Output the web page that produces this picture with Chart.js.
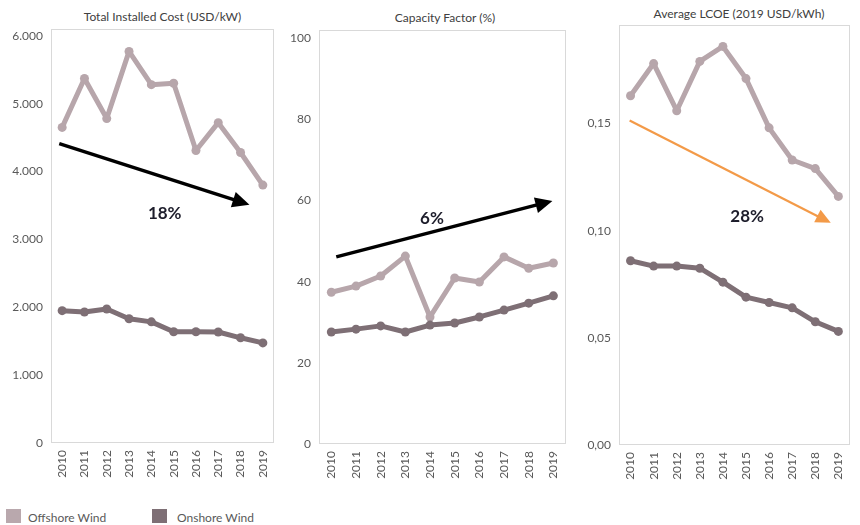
<!DOCTYPE html>
<html>
<head>
<meta charset="utf-8">
<script src="https://cdn.jsdelivr.net/npm/chart.js@4.4.1/dist/chart.umd.min.js"></script>
<style>
  html, body { margin: 0; padding: 0; background: #ffffff; }
  body { width: 860px; height: 525px; position: relative; overflow: hidden;
         font-family: Lato, "Liberation Sans", sans-serif; }
  canvas { position: absolute; top: 0; }
  .title { position: absolute; font-size: 12px; line-height: 14px; color: #404040;
           text-align: center; white-space: nowrap; }
  .swatch { position: absolute; top: 509px; width: 15px; height: 14px; }
  .legtext { position: absolute; top: 511px; font-size: 12px; line-height: 14px; color: #595959; white-space: nowrap; }
</style>
</head>
<body>
<div class="title" style="left:51px; width:223px; top:10px;">Total Installed Cost (USD/kW)</div>
<div class="title" style="left:319px; width:252px; top:11px;">Capacity Factor (%)</div>
<div class="title" style="left:619px; width:240px; top:7px;">Average LCOE (2019 USD/kWh)</div>

<canvas id="cost" width="285" height="480" style="left:0px;"></canvas>
<canvas id="cf" width="305" height="480" style="left:270px;"></canvas>
<canvas id="lcoe" width="285" height="480" style="left:575px;"></canvas>

<div class="swatch" style="left:6px; background:#b9a8ad;"></div>
<div class="legtext" style="left:28px;">Offshore Wind</div>
<div class="swatch" style="left:152px; background:#7e6f75;"></div>
<div class="legtext" style="left:177px;">Onshore Wind</div>

<script>
// Years on the category axis
const years = ['2010', '2011', '2012', '2013', '2014', '2015', '2016', '2017', '2018', '2019'];

// Total installed cost, USD/kW
const costOffshore = [4650, 5370, 4780, 5770, 5280, 5300, 4310, 4720, 4280, 3800];
const costOnshore  = [1950, 1930, 1975, 1830, 1785, 1640, 1640, 1635, 1550, 1475];
const costTicks    = [0, 1000, 2000, 3000, 4000, 5000, 6000];

// Capacity factor, %
const cfOffshore = [37.4, 38.9, 41.4, 46.3, 31.3, 40.9, 39.9, 46.1, 43.3, 44.6];
const cfOnshore  = [27.6, 28.3, 29.1, 27.6, 29.3, 29.8, 31.3, 33.0, 34.7, 36.5];
const cfTicks    = [0, 20, 40, 60, 80, 100];

// Average LCOE, 2019 USD/kWh
const lcoeOffshore = [0.163, 0.178, 0.156, 0.179, 0.186, 0.171, 0.148, 0.133, 0.129, 0.116];
const lcoeOnshore  = [0.086, 0.0835, 0.0835, 0.0825, 0.076, 0.069, 0.0665, 0.064, 0.0575, 0.053];
const lcoeTicks    = [0, 0.05, 0.10, 0.15];

// Trend annotations: [category index, value]
const costTrend = { from: [-0.13, 4410], to: [8.4, 3510], text: '18%', at: [4.6, 3380] };
const cfTrend   = { from: [0.2, 46.1],   to: [8.96, 59.9], text: '6%',  at: [4.08, 55.6] };
const lcoeTrend = { from: [-0.04, 0.1514], to: [8.67, 0.1037], text: '28%', at: [5.05, 0.1065] };

const OFFSHORE = '#b7a6ab';
const ONSHORE = '#7e6f75';
const FONT = 'Lato, "Liberation Sans", sans-serif';

// Light grey frame around the plot area
const framePlugin = {
  id: 'frame',
  beforeDatasetsDraw(chart) {
    const a = chart.chartArea, ctx = chart.ctx;
    ctx.save();
    ctx.strokeStyle = '#d9d9d9';
    ctx.lineWidth = 1;
    ctx.strokeRect(Math.round(a.left) + 0.5, Math.round(a.top) + 0.5,
                   Math.round(a.right - a.left) - 1, Math.round(a.bottom - a.top) - 1);
    ctx.restore();
  }
};

// Trend arrow with its percentage label, placed in data units
const trendPlugin = {
  id: 'trend',
  afterDatasetsDraw(chart, args, o) {
    if (!o || !o.from) return;
    const xs = chart.scales.x, ys = chart.scales.y, ctx = chart.ctx;
    const x1 = xs.getPixelForValue(o.from[0]), y1 = ys.getPixelForValue(o.from[1]);
    const x2 = xs.getPixelForValue(o.to[0]),   y2 = ys.getPixelForValue(o.to[1]);
    const ang = Math.atan2(y2 - y1, x2 - x1);
    const hl = o.headLength, hw = o.headWidth;
    const bx = x2 - hl * Math.cos(ang), by = y2 - hl * Math.sin(ang);
    ctx.save();
    ctx.strokeStyle = o.color;
    ctx.fillStyle = o.color;
    ctx.lineWidth = o.lineWidth;
    ctx.beginPath();
    ctx.moveTo(x1, y1);
    ctx.lineTo(bx + 2 * Math.cos(ang), by + 2 * Math.sin(ang));
    ctx.stroke();
    ctx.beginPath();
    ctx.moveTo(x2, y2);
    ctx.lineTo(bx + hw * Math.sin(ang), by - hw * Math.cos(ang));
    ctx.lineTo(bx - hw * Math.sin(ang), by + hw * Math.cos(ang));
    ctx.closePath();
    ctx.fill();
    ctx.fillStyle = '#1d1d2b';
    ctx.font = 'bold 17px ' + FONT;
    ctx.textAlign = 'center';
    ctx.textBaseline = 'middle';
    ctx.fillText(o.text, xs.getPixelForValue(o.at[0]), ys.getPixelForValue(o.at[1]));
    ctx.restore();
  }
};

function makePanel(id, offshore, onshore, cfg) {
  const trend = Object.assign({}, cfg.trend, cfg.arrowStyle);
  return new Chart(document.getElementById(id), {
    type: 'line',
    data: {
      labels: years,
      datasets: [
        { label: 'Onshore Wind', data: onshore, borderColor: ONSHORE, backgroundColor: ONSHORE },
        { label: 'Offshore Wind', data: offshore, borderColor: OFFSHORE, backgroundColor: OFFSHORE }
      ]
    },
    options: {
      responsive: false,
      animation: false,
      events: [],
      layout: { padding: { top: cfg.top, right: cfg.right, left: 0, bottom: 0 } },
      elements: {
        line: { borderWidth: 5, tension: 0, borderJoinStyle: 'round', borderCapStyle: 'round' },
        point: { radius: 4.5, borderWidth: 0 }
      },
      plugins: {
        legend: { display: false },
        title: { display: false },
        tooltip: { enabled: false },
        trend: trend
      },
      scales: {
        x: {
          offset: true,
          grid: { display: false, drawTicks: false },
          border: { display: false },
          ticks: { autoSkip: false, maxRotation: 90, minRotation: 90, padding: 7,
                   color: '#595959', font: { family: FONT, size: 12 } },
          afterFit: s => { s.height = cfg.xHeight; }
        },
        y: {
          min: 0,
          max: cfg.max,
          grid: { display: false, drawTicks: false },
          border: { display: false },
          ticks: { autoSkip: false, padding: 8, color: '#595959',
                   font: { family: FONT, size: 12 }, callback: cfg.fmt },
          afterBuildTicks: s => { s.ticks = cfg.ticks.map(v => ({ value: v })); },
          afterFit: s => { s.width = cfg.yWidth; }
        }
      }
    },
    plugins: [framePlugin, trendPlugin]
  });
}

const blackArrow = { color: '#000000', lineWidth: 3.5, headLength: 17, headWidth: 8 };
const orangeArrow = { color: '#f39a48', lineWidth: 2.2, headLength: 15, headWidth: 7 };

makePanel('cost', costOffshore, costOnshore, {
  top: 29, right: 11, yWidth: 51, xHeight: 37, max: 6100, ticks: costTicks,
  fmt: v => Math.round(v).toString().replace(/\B(?=(\d{3})+(?!\d))/g, '.'),
  trend: costTrend, arrowStyle: blackArrow
});

makePanel('cf', cfOffshore, cfOnshore, {
  top: 30, right: 4, yWidth: 49, xHeight: 36, max: 102, ticks: cfTicks,
  fmt: v => String(Math.round(v)),
  trend: cfTrend, arrowStyle: blackArrow
});

makePanel('lcoe', lcoeOffshore, lcoeOnshore, {
  top: 25, right: 1, yWidth: 44, xHeight: 35, max: 0.196, ticks: lcoeTicks,
  fmt: v => v.toFixed(2).replace('.', ','),
  trend: lcoeTrend, arrowStyle: orangeArrow
});
</script>
</body>
</html>
